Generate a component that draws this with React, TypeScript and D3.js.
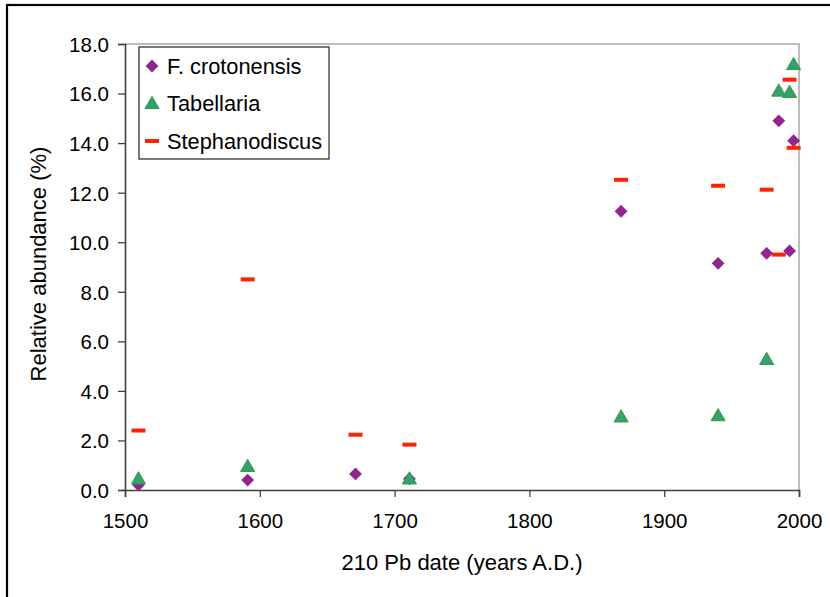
import React, { useEffect, useRef } from 'react';
import * as d3 from 'd3';

// sample dates (210Pb years A.D.)
const years = [1510, 1591, 1671, 1711, 1868, 1940, 1976, 1985, 1993, 1996];
const crotonensis = [0.2, 0.4, 0.65, 0.45, 11.25, 9.15, 9.55, 14.9, 9.65, 14.1];
const tabellaria: (number | null)[] = [0.45, 0.95, null, 0.45, 2.95, 3.0, 5.27, 16.1, 16.05, 17.17];
const stephanodiscus = [2.4, 8.5, 2.23, 1.83, 12.52, 12.28, 12.12, 9.5, 16.56, 13.81];

const xTicks = [1500, 1600, 1700, 1800, 1900, 2000];
const yTicks = [0, 2, 4, 6, 8, 10, 12, 14, 16, 18];
const seriesNames = ['F. crotonensis', 'Tabellaria', 'Stephanodiscus'];

const App: React.FC = () => {
    const svgRef = useRef<SVGSVGElement | null>(null);

    useEffect(() => {
        const svg = d3.select(svgRef.current);
        svg.selectAll("*").remove();

        const width = 830;
        const height = 597;
        const margin = { top: 44, right: 31, bottom: 107, left: 125 };
        const font = "Liberation Sans, Arial, sans-serif";

        const x = d3.scaleLinear().domain([1500, 2000]).range([margin.left, width - margin.right]);
        const y = d3.scaleLinear().domain([0, 18]).range([height - margin.bottom, margin.top]);

        // outer frame
        svg.append("rect")
            .attr("x", 7).attr("y", 5)
            .attr("width", width + 10).attr("height", height + 10)
            .attr("fill", "white").attr("stroke", "black").attr("stroke-width", 2.2);

        // plot area border (top, right)
        svg.append("path")
            .attr("d", `M${x(1500)},${y(18)}H${x(2000)}V${y(0)}`)
            .attr("fill", "none").attr("stroke", "#a6a6a6").attr("stroke-width", 1.5);

        // x axis
        const xAxis = svg.append("g")
            .attr("transform", `translate(0,${y(0)})`)
            .call(d3.axisBottom(x).tickValues(xTicks).tickFormat(d3.format("d")).tickSizeOuter(0).tickSize(7).tickPadding(16));
        // y axis
        const yAxis = svg.append("g")
            .attr("transform", `translate(${x(1500)},0)`)
            .call(d3.axisLeft(y).tickValues(yTicks).tickFormat(d3.format(".1f")).tickSizeOuter(0).tickSize(7).tickPadding(9));

        [xAxis, yAxis].forEach(g => {
            g.select(".domain").attr("stroke", "#404040").attr("stroke-width", 1.6);
            g.selectAll(".tick line").attr("stroke", "#404040").attr("stroke-width", 1.3);
            g.selectAll(".tick text").attr("fill", "black").style("font-family", font).style("font-size", "20.5px");
        });
        yAxis.selectAll(".tick text").attr("dy", "0.36em");

        // axis titles
        svg.append("text")
            .attr("x", (x(1500) + x(2000)) / 2).attr("y", 570)
            .attr("text-anchor", "middle")
            .style("font-family", font).style("font-size", "22px")
            .text("210 Pb date (years A.D.)");
        svg.append("text")
            .attr("transform", `translate(46,${(y(0) + y(18)) / 2 - 3}) rotate(-90)`)
            .attr("text-anchor", "middle")
            .style("font-family", font).style("font-size", "22px")
            .text("Relative abundance (%)");

        const diamond = d3.symbol().type(d3.symbolSquare).size(82);
        const triangle = d3.symbol().type(d3.symbolTriangle).size(86);

        const drawDiamond = (g: d3.Selection<any, any, any, any>, cx: number, cy: number) =>
            g.append("path").attr("d", diamond()!)
                .attr("transform", `translate(${cx},${cy}) rotate(45)`)
                .attr("fill", "#922490");
        const drawTriangle = (g: d3.Selection<any, any, any, any>, cx: number, cy: number) =>
            g.append("path").attr("d", triangle()!)
                .attr("transform", `translate(${cx},${cy + 1})`)
                .attr("fill", "#3a9e72").attr("stroke", "#26a23c").attr("stroke-width", 1);
        const drawDash = (g: d3.Selection<any, any, any, any>, cx: number, cy: number) =>
            g.append("rect").attr("x", cx - 7).attr("y", cy - 2).attr("width", 14).attr("height", 4)
                .attr("fill", "#ff2200");

        const marks = svg.append("g");
        years.forEach((yr, i) => drawDiamond(marks, x(yr), y(crotonensis[i])));
        years.forEach((yr, i) => {
            const v = tabellaria[i];
            if (v !== null) drawTriangle(marks, x(yr), y(v));
        });
        years.forEach((yr, i) => drawDash(marks, x(yr), y(stephanodiscus[i])));

        // legend
        const legend = svg.append("g").attr("transform", "translate(139,47)");
        legend.append("rect")
            .attr("width", 190).attr("height", 112)
            .attr("fill", "white").attr("stroke", "#222").attr("stroke-width", 1.2);
        const drawers = [drawDiamond, drawTriangle, drawDash];
        seriesNames.forEach((name, i) => {
            const cy = 19 + i * 37.5;
            drawers[i](legend, 13, cy);
            legend.append("text")
                .attr("x", 28).attr("y", cy + 7.5)
                .style("font-family", font).style("font-size", "21.8px")
                .text(name);
        });
    }, []);

    return <svg ref={svgRef} width={830} height={597} style={{ position: 'absolute', left: 0, top: 0 }}></svg>;
};

export default App;
